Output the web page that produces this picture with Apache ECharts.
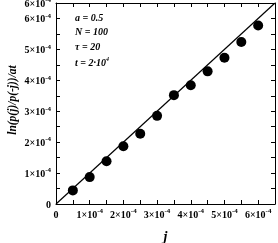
<!DOCTYPE html>
<html><head><meta charset="utf-8">
<script src="https://cdn.jsdelivr.net/npm/echarts@6/dist/echarts.min.js"></script>
<style>html,body{margin:0;padding:0;background:#fff}#c{width:278px;height:243px}</style>
</head><body><div id="c"></div>
<script>
var xVals = [0.5e-4, 1e-4, 1.5e-4, 2e-4, 2.5e-4, 3e-4, 3.5e-4, 4e-4, 4.5e-4, 5e-4, 5.5e-4, 6e-4];
var yVals = [0.44e-4, 0.87e-4, 1.38e-4, 1.87e-4, 2.27e-4, 2.85e-4, 3.52e-4, 3.84e-4, 4.29e-4, 4.73e-4, 5.24e-4, 5.77e-4];
var fitLine = [[0, 0], [6.5e-4, 6.5e-4]];
var tickMantissa = ['0', '1', '2', '3', '4', '5', '6'];
var annotations = [['a = 0.5', ''], ['N = 100', ''], ['\u03c4 = 20', ''], ['t = 2\u00b710', '4']];
var yTitle = 'ln(p(j)/p(-j))/at';
var xTitle = 'j';

var F = 'Liberation Serif';
function fmt(v) {
  var k = Math.round(v / 1e-4);
  if (k === 0) return '{b|0}';
  return '{b|' + tickMantissa[k] + '\u00d710}{s|-4}';
}
var rich = {
  b: {fontFamily: F, fontWeight: 'bold', fontSize: 10, color: '#000', lineHeight: 12, verticalAlign: 'bottom'},
  s: {fontFamily: F, fontWeight: 'bold', fontSize: 7, color: '#000', lineHeight: 12, verticalAlign: 'top', padding: [0, 0, 4, 0]}
};
var axCommon = {
  type: 'value', min: 0, max: 6.5e-4, interval: 1e-4,
  axisLine: {show: true, onZero: false, lineStyle: {color: '#000', width: 1}},
  axisTick: {show: true, inside: true, length: 4, lineStyle: {color: '#000'}},
  minorTick: {show: true, splitNumber: 2, length: 4, lineStyle: {color: '#000'}},
  splitLine: {show: false}
};
function ax(o) { return Object.assign({}, JSON.parse(JSON.stringify(axCommon)), o); }

var chart = echarts.init(document.getElementById('c'), null, {renderer: 'canvas'});
var pointData = xVals.map(function (x, i) { return [x, yVals[i]]; });
var g = [];
annotations.forEach(function (a, i) {
  g.push({
    type: 'text', left: 75, top: 13 + i * 14.5,
    style: {
      text: '{i|' + a[0] + '}' + (a[1] ? '{s|' + a[1] + '}' : ''),
      rich: {
        i: {fontFamily: F, fontWeight: 'bold', fontStyle: 'italic', fontSize: 10, fill: '#000', lineHeight: 12, verticalAlign: 'bottom'},
        s: {fontFamily: F, fontWeight: 'bold', fontStyle: 'italic', fontSize: 6, fill: '#000', lineHeight: 12, verticalAlign: 'top'}
      }
    }
  });
});
g.push({
  type: 'text', x: 13, y: 100, rotation: Math.PI / 2,
  style: {text: yTitle, textAlign: 'center', textVerticalAlign: 'middle',
          font: 'italic bold 11.5px "Liberation Serif"', fill: '#000'}
});
chart.setOption({
  animation: false,
  grid: {left: 56, right: 3, top: 3, bottom: 39, containLabel: false, outerBoundsMode: 'none'},
  xAxis: [
    ax({position: 'bottom', name: xTitle, nameLocation: 'middle', nameGap: 26,
        nameTextStyle: {fontFamily: F, fontWeight: 'bold', fontStyle: 'italic', fontSize: 14, color: '#000'},
        axisLabel: {formatter: fmt, rich: rich, margin: 4}}),
    ax({position: 'top', axisLabel: {show: false}})
  ],
  yAxis: [
    ax({position: 'left', axisLabel: {formatter: fmt, rich: rich, margin: 5}}),
    ax({position: 'right', axisLabel: {show: false}})
  ],
  graphic: g,
  series: [
    {type: 'line', data: fitLine, symbol: 'none', lineStyle: {color: '#000', width: 1.2}, z: 2},
    {type: 'scatter', data: pointData, symbol: 'circle', symbolSize: 10, itemStyle: {color: '#000', opacity: 1}, z: 3}
  ]
});
</script></body></html>
